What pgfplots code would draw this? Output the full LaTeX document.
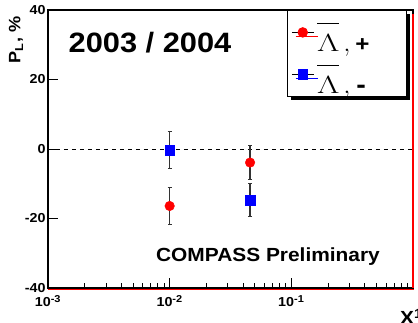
\documentclass[border=0pt]{standalone}
\usepackage{pgfplots}
\pgfplotsset{compat=1.18}
\usepackage{fontspec}
\setmainfont{Liberation Sans}[FakeStretch=1.1]
\usetikzlibrary{shadows}
\newcommand{\legtext}[2]{\raisebox{0pt}[40.5pt][0pt]{\makebox[88pt][l]{\hspace{3pt}{\fontsize{23}{23}\selectfont$\overline{\rule{0pt}{1.2em}\scalebox{1.4}[1]{$\Lambda$}}\,,$}\hspace{#1}#2}}}
\begin{document}
\begin{tikzpicture}[x=1pt,y=1pt]
\useasboundingbox (0,0) rectangle (418,322);
\begin{axis}[
  at={(48pt,34pt)}, anchor=south west,
  scale only axis, width=365pt, height=278pt,
  xmode=log, xmin=1e-3, xmax=1, ymin=-40, ymax=40,
  axis line style={line width=1.2pt},
  xtick={0.001,0.01,0.1,1},
  xticklabels={{\textbf{10}\textsuperscript{\fontsize{10}{10}\selectfont\textbf{-3}}},{\textbf{10}\textsuperscript{\fontsize{10}{10}\selectfont\textbf{-2}}},{\textbf{10}\textsuperscript{\fontsize{10}{10}\selectfont\textbf{-1}}},{}},
  minor xtick={0.002,0.003,0.004,0.005,0.006,0.007,0.008,0.009,0.02,0.03,0.04,0.05,0.06,0.07,0.08,0.09,0.2,0.3,0.4,0.5,0.6,0.7,0.8,0.9},
  ytick={-40,-20,0,20,40},
  yticklabels={-40,-20,0,20,40},
  tick align=inside, xtick pos=bottom, ytick pos=left,
  major tick length=10pt, minor tick length=5pt,
  tick style={black, line width=0.8pt},
  xticklabel style={font=\fontsize{13}{13}\selectfont, yshift=-4pt},
  yticklabel style={font=\bfseries\fontsize{13}{13}\selectfont, xshift=1pt},
  legend style={at={(0.655,1)}, anchor=north west, draw=black, line width=0.8pt, fill=white,
    drop shadow={shadow xshift=4pt, shadow yshift=-4pt, fill=black, opacity=1},
    inner xsep=4pt, inner ysep=1pt, row sep=0pt, column sep=0pt,
    nodes={inner sep=0pt}},
  legend cell align=left,
  legend image code/.code={
    \draw[black, line width=0.6pt] (0pt,0pt) -- (22pt,0pt);
    \path plot coordinates {(11pt,0pt)};
  },
]
\addplot[forget plot, black, line width=0.8pt, dash pattern=on 4pt off 4pt] coordinates {(0.001,0) (1,0)};
\addplot[only marks, mark=*, mark size=4.8pt, color=red, mark options={draw=red, fill=red},
  error bars/.cd, y dir=both, y explicit,
  error bar style={line width=1.3pt, color=black!80},
  error mark options={rotate=90, mark size=2pt, line width=1pt, black!80}]
  coordinates {(0.01,-16.4) +- (0,5.2) (0.0458,-3.9) +- (0,4.8)};
\addlegendentry{\legtext{5pt}{{\bfseries\fontsize{22}{22}\selectfont +}}}
\addplot[only marks, mark=square*, mark size=4.8pt, color=blue, mark options={draw=blue, fill=blue},
  error bars/.cd, y dir=both, y explicit,
  error bar style={line width=1.3pt, color=black!80},
  error mark options={rotate=90, mark size=2pt, line width=1pt, black!80}]
  coordinates {(0.01,-0.3) +- (0,5.3) (0.0458,-14.7) +- (0,4.7)};
\addlegendentry{\legtext{6pt}{{\bfseries\fontsize{26}{26}\selectfont -}}}
\end{axis}
\draw[red, line width=1.2pt] (413,308) -- (413,34);
\draw[red, line width=0.9pt] (48,33) -- (413.6,33);
\node[font=\bfseries\fontsize{28}{28}\selectfont] at (150,279) {2003 / 2004};
\node[font=\bfseries\fontsize{19}{19}\selectfont] at (268,65) {COMPASS Preliminary};
\node[font=\bfseries\fontsize{16.5}{16.5}\selectfont, rotate=90] at (16,282) {P\textsubscript{L}, \%};
\node[font=\bfseries\fontsize{19}{19}\selectfont, anchor=south west, inner sep=0pt] at (400,-3) {X\textsuperscript{1}};
\end{tikzpicture}
\end{document}
